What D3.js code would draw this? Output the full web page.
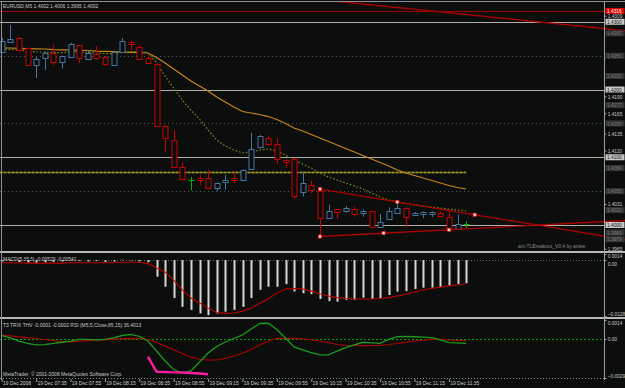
<!DOCTYPE html>
<html>
<head>
<meta charset="utf-8">
<script src="https://cdn.jsdelivr.net/npm/d3@7"></script>
<style>
body { margin: 0; background: #0c0e0e; }
svg { display: block; font-family: "Liberation Sans", Arial, sans-serif; }
</style>
</head>
<body>
<svg width="625" height="388"></svg>
<script>
var title = "EURUSD,M5  1.4002 1.4006 1.3995 1.4002";
var macdTitle = "MACD(5,35,5) -0.00529 -0.00541";
var trixTitle = "T3 TRIX THV -0.0001 -0.0002  RSI (M5,5,Close,85,15) 36.4013";
var copyright = "MetaTrader, \u00a9 2001-2008 MetaQuotes Software Corp.";
var tlName = "ant-TLBreakout_V0.4 by antee";

// M5 bars, 19 Dec 2008 07:15 .. 11:45
var opens = [1.4255,1.4270,1.4276,1.4261,1.4236,1.4246,1.4254,1.4241,1.4248,1.4265,1.4245,1.4252,1.4248,1.4236,1.4256,1.4270,1.4263,1.4247,1.4238,1.4146,1.4126,1.4086,1.4067,1.4070,1.4069,1.4055,1.4063,1.4069,1.4066,1.4082,1.4115,1.4129,1.4120,1.4096,1.4097,1.4049,1.4059,1.4050,1.4011,1.4023,1.4020,1.4023,1.4018,1.4020,1.3997,1.4009,1.4018,1.4025,1.4015,1.4016,1.4016,1.4017,1.4012,1.3994,1.4002];
var highs = [1.4276,1.4295,1.4277,1.4262,1.4248,1.4256,1.4266,1.4250,1.4269,1.4266,1.4258,1.4264,1.4249,1.4257,1.4276,1.4272,1.4265,1.4251,1.4239,1.4147,1.4140,1.4092,1.4071,1.4074,1.4081,1.4063,1.4074,1.4079,1.4082,1.4136,1.4133,1.4132,1.4128,1.4097,1.4098,1.4079,1.4066,1.4053,1.4030,1.4024,1.4028,1.4027,1.4023,1.4021,1.4016,1.4026,1.4034,1.4026,1.4019,1.4020,1.4020,1.4020,1.4023,1.4015,1.4006];
var lows = [1.4254,1.4269,1.4256,1.4235,1.4217,1.4229,1.4236,1.4231,1.4247,1.4239,1.4244,1.4244,1.4235,1.4235,1.4255,1.4258,1.4244,1.4238,1.4145,1.4107,1.4084,1.4066,1.4051,1.4059,1.4053,1.4050,1.4052,1.4062,1.4065,1.4081,1.4113,1.4117,1.4090,1.4085,1.4038,1.4042,1.4047,1.3983,1.4010,1.4009,1.4018,1.4012,1.4012,1.3996,1.3996,1.4008,1.4017,1.3997,1.4014,1.4010,1.4012,1.4013,1.3993,1.3993,1.3995];
var closes = [1.4271,1.4274,1.4259,1.4236,1.4245,1.4254,1.4240,1.4249,1.4267,1.4246,1.4254,1.4246,1.4237,1.4256,1.4272,1.4267,1.4245,1.4239,1.4146,1.4128,1.4085,1.4068,1.4067,1.4067,1.4054,1.4062,1.4066,1.4066,1.4081,1.4112,1.4131,1.4120,1.4097,1.4093,1.4043,1.4062,1.4051,1.4010,1.4021,1.4019,1.4025,1.4016,1.4021,1.3997,1.4005,1.4020,1.4025,1.4012,1.4018,1.4019,1.4019,1.4014,1.3994,1.4001,1.4002];

var maSlow = [1.42613,1.42613,1.42608,1.42605,1.42601,1.42598,1.42590,1.42586,1.42583,1.42579,1.42576,1.42568,1.42564,1.42558,1.42554,1.42549,1.42546,1.42539,1.42472,1.42391,1.42303,1.42214,1.42125,1.42052,1.41978,1.41889,1.41815,1.41742,1.41675,1.41653,1.41631,1.41601,1.41557,1.41498,1.41432,1.41387,1.41336,1.41284,1.41232,1.41181,1.41129,1.41077,1.41026,1.40974,1.40923,1.40871,1.40812,1.40768,1.40731,1.40694,1.40657,1.40620,1.40583,1.40554,1.40531];
var maFast = [1.42598,1.42590,1.42583,1.42568,1.42554,1.42554,1.42546,1.42546,1.42554,1.42554,1.42546,1.42539,1.42531,1.42531,1.42546,1.42561,1.42561,1.42546,1.42391,1.42199,1.42022,1.41845,1.41697,1.41565,1.41402,1.41255,1.41166,1.41107,1.41063,1.41077,1.41107,1.41122,1.41092,1.41033,1.40959,1.40900,1.40841,1.40768,1.40708,1.40664,1.40620,1.40576,1.40531,1.40472,1.40413,1.40369,1.40339,1.40317,1.40295,1.40280,1.40266,1.40251,1.40236,1.40221,1.40207];

var macdHist = [-0.0003,-0.0002,-0.0004,-0.0006,-0.0007,-0.0005,-0.0004,-0.0003,-0.0001,-0.0002,-0.0003,-0.0002,-0.0004,-0.0003,0.0001,-0.0001,-0.0003,-0.0005,-0.0038,-0.0061,-0.0087,-0.0107,-0.0114,-0.0122,-0.0126,-0.0122,-0.0118,-0.0114,-0.0107,-0.0087,-0.0068,-0.0061,-0.0061,-0.0055,-0.0072,-0.0076,-0.0078,-0.0089,-0.0094,-0.0095,-0.0091,-0.0091,-0.0086,-0.0089,-0.0087,-0.0080,-0.0072,-0.0071,-0.0066,-0.0063,-0.0063,-0.0061,-0.0059,-0.0055,-0.0053];
var macdSignal = [-0.0006,-0.0006,-0.0006,-0.0007,-0.0007,-0.0007,-0.0007,-0.0007,-0.0006,-0.0006,-0.0006,-0.0006,-0.0006,-0.0006,-0.0005,-0.0005,-0.0005,-0.0008,-0.0018,-0.0027,-0.0046,-0.0068,-0.0087,-0.0098,-0.0110,-0.0120,-0.0122,-0.0121,-0.0117,-0.0110,-0.0099,-0.0089,-0.0075,-0.0066,-0.0065,-0.0066,-0.0071,-0.0077,-0.0082,-0.0086,-0.0088,-0.0089,-0.0089,-0.0089,-0.0088,-0.0086,-0.0082,-0.0078,-0.0073,-0.0068,-0.0065,-0.0062,-0.0059,-0.0057,-0.0054];

var trixMain = [0.00025,0.00007,-0.00016,-0.00034,-0.00045,-0.00042,-0.00034,-0.00025,-0.00016,-0.00004,-0.00003,-0.00008,-0.00004,0.00007,0.00025,0.00034,0.00018,-0.00016,-0.0009,-0.00164,-0.00227,-0.00253,-0.00238,-0.00171,-0.00105,-0.00056,-0.00023,0.00003,0.00029,0.00073,0.00114,0.00116,0.0007,0.00007,-0.0006,-0.00082,-0.00101,-0.00119,-0.00119,-0.0009,-0.00065,-0.00045,-0.00025,-0.00029,-0.00033,-0.00004,0.00016,0.00018,0.00016,0.00013,0.00009,-0.00008,-0.00027,-0.0003,-0.00033];
var trixSignal = [0.00027,0.00022,0.00016,0.00009,0.00003,-0.00004,-0.00012,-0.00019,-0.00022,-0.00018,-0.00013,-0.0001,-0.00007,-0.00002,0.00002,0.00004,0.00002,-0.00004,-0.00027,-0.00053,-0.00082,-0.00108,-0.00134,-0.00153,-0.00156,-0.00156,-0.00145,-0.00127,-0.00107,-0.00079,-0.00045,-0.00017,0.00004,0.00005,0.00004,0.00001,-0.00007,-0.00016,-0.00029,-0.00042,-0.00047,-0.00049,-0.0005,-0.0005,-0.00047,-0.00042,-0.00034,-0.00024,-0.00016,-0.0001,-0.00004,-0.00004,-0.00008,-0.00012,-0.00013];
var rsiStart = 17;
var rsiLine = [-0.00132,-0.00243,-0.00245,-0.00248,-0.00249,-0.00253,-0.00257,-0.00262];

var labelBars = [0,4,8,12,16,20,24,28,32,36,40,44,48,52];
var timeLabels = ["19 Dec 2008","19 Dec 07:35","19 Dec 07:55","19 Dec 08:15","19 Dec 08:35","19 Dec 08:55","19 Dec 09:15","19 Dec 09:35","19 Dec 09:55","19 Dec 10:15","19 Dec 10:35","19 Dec 10:55","19 Dec 11:15","19 Dec 11:35"];

var solidLevels = [1.4300, 1.4200, 1.4100, 1.4000];
var dottedLevels = [1.4250, 1.4150, 1.4050];
var dimLevels = [1.4283, 1.4220, 1.4177, 1.4084, 1.4022, 1.3989, 1.3979];
var redLevel = 1.4316;
var yellowLevel = 1.4078;
var priceTicks = [1.4309, 1.4190, 1.4165, 1.4135, 1.4110, 1.4031, 1.3965];

var topTrend = [[39.1, 1.4330], [70.0, 1.4290]];
var upperTL = [[37, 1.4053], [55, 1.40152]];
var lowerTL = [[37, 1.3983], [52, 1.3993]];
var upperMarks = [37, 46, 55];
var lowerMarks = [37, 44.4, 52];

var macdTicks = [0.0014, 0, -0.0128];
var trixTicks = [0.0014, 0, -0.0029];

var svg = d3.select("svg");
var bg = "#0c0e0e", grey = "#b0b0a8", txt = "#c8c8c8";
var bars = d3.range(opens.length);

var x = d3.scaleLinear().domain([0, 54]).range([1.7, 466.1]);
var y = d3.scaleLinear().domain([1.4, 1.431]).range([225, 15]);
var yMacd = d3.scaleLinear().domain([-0.0128, 0.0014]).range([316, 254]);
var yTrix = d3.scaleLinear().domain([-0.0029, 0.0014]).range([378, 320]);

function px(v) { return Math.round(v) + 0.5; }
function sx(sel) { return sel.attr("transform", "scale(0.8,1)"); }
function label(t, lx, ly, col) {
    svg.append("text").attr("transform", "translate(" + lx + "," + ly + ") scale(0.8,1)")
        .attr("font-size", "6.2px").attr("fill", col || txt).text(t);
}
function extend(p, iEnd) {
    var k = (p[1][1] - p[0][1]) / (p[1][0] - p[0][0]);
    return [p[0], [iEnd, p[0][1] + k * (iEnd - p[0][0])]];
}
function ptOn(p, i) {
    var k = (p[1][1] - p[0][1]) / (p[1][0] - p[0][0]);
    return p[0][1] + k * (i - p[0][0]);
}

svg.append("rect").attr("width", 625).attr("height", 388).attr("fill", bg);
svg.append("defs").append("clipPath").attr("id", "mainClip")
    .append("rect").attr("x", 0).attr("y", 2).attr("width", 625).attr("height", 249);

// main panel levels
svg.selectAll(".dl").data(dottedLevels).enter().append("line")
    .attr("x1", 0).attr("x2", 604).attr("y1", function (d) { return px(y(d)); }).attr("y2", function (d) { return px(y(d)); })
    .attr("stroke", "#5a5a5a").attr("stroke-dasharray", "1,3");
svg.selectAll(".sl").data(solidLevels).enter().append("line")
    .attr("x1", 0).attr("x2", 604).attr("y1", function (d) { return px(y(d)); }).attr("y2", function (d) { return px(y(d)); })
    .attr("stroke", grey);
svg.append("line").attr("x1", 0).attr("x2", 604).attr("y1", px(y(redLevel))).attr("y2", px(y(redLevel)))
    .attr("stroke", "#a00000");
svg.append("line").attr("x1", 0).attr("x2", x(54)).attr("y1", px(y(yellowLevel))).attr("y2", px(y(yellowLevel)))
    .attr("stroke", "#5e7a16").attr("stroke-width", 1.5);
svg.append("line").attr("x1", 0).attr("x2", x(54)).attr("y1", px(y(yellowLevel))).attr("y2", px(y(yellowLevel)))
    .attr("stroke", "#b8881c").attr("stroke-width", 1.5).attr("stroke-dasharray", "2,2");

// moving averages
var maLine = d3.line().x(function (d, i) { return x(i); }).y(function (d) { return y(d); });
svg.append("path").attr("d", maLine(maSlow)).attr("fill", "none").attr("stroke", "#c8861a").attr("stroke-width", 1.2);
svg.append("path").attr("d", maLine(maFast)).attr("fill", "none").attr("stroke", "#7e9224")
    .attr("stroke-width", 1.2).attr("stroke-dasharray", "1.5,2");

// candles
function candleColor(i) {
    if (closes[i] > opens[i]) return "#4874a0";
    if (closes[i] < opens[i]) return "#c80000";
    return "#00b000";
}
var cg = svg.append("g");
bars.forEach(function (i) {
    var cx = px(x(i)), col = candleColor(i);
    cg.append("line").attr("x1", cx).attr("x2", cx).attr("y1", y(highs[i])).attr("y2", y(lows[i])).attr("stroke", col);
    if (opens[i] === closes[i]) {
        cg.append("line").attr("x1", cx - 3).attr("x2", cx + 3).attr("y1", px(y(opens[i]))).attr("y2", px(y(opens[i])))
            .attr("stroke", col);
    } else {
        var top = Math.round(y(Math.max(opens[i], closes[i]))) + 0.5;
        var bot = Math.round(y(Math.min(opens[i], closes[i]))) + 0.5;
        cg.append("rect").attr("x", cx - 2.5).attr("y", top).attr("width", 5).attr("height", Math.max(1, bot - top))
            .attr("fill", bg).attr("stroke", col);
    }
});

// trend lines
var tl = svg.append("g").attr("clip-path", "url(#mainClip)");
var tline = d3.line().x(function (d) { return x(d[0]); }).y(function (d) { return y(d[1]); });
tl.append("path").attr("d", tline(extend(topTrend, 73).map(function (d, k) { return k === 0 ? [36, ptOn(topTrend, 36)] : d; })))
    .attr("fill", "none").attr("stroke", "#a00000").attr("stroke-width", 1.5);
tl.append("path").attr("d", tline(extend(upperTL, 73))).attr("fill", "none").attr("stroke", "#b00000").attr("stroke-width", 1.3);
tl.append("path").attr("d", tline(extend(lowerTL, 73))).attr("fill", "none").attr("stroke", "#b00000").attr("stroke-width", 1.3);
upperMarks.forEach(function (i) {
    tl.append("rect").attr("x", x(i) - 1.5).attr("y", y(ptOn(upperTL, i)) - 1.5).attr("width", 3).attr("height", 3)
        .attr("fill", "#fff0f0").attr("stroke", "#ff2020").attr("stroke-width", 0.8);
});
lowerMarks.forEach(function (i) {
    tl.append("rect").attr("x", x(i) - 1.5).attr("y", y(ptOn(lowerTL, i)) - 1.5).attr("width", 3).attr("height", 3)
        .attr("fill", "#fff0f0").attr("stroke", "#ff2020").attr("stroke-width", 0.8);
});

// MACD panel
svg.append("line").attr("x1", 0).attr("x2", 604).attr("y1", px(yMacd(0))).attr("y2", px(yMacd(0)))
    .attr("stroke", "#6a6a6a").attr("stroke-dasharray", "1,2");
svg.selectAll(".hist").data(macdHist).enter().append("rect")
    .attr("x", function (d, i) { return Math.round(x(i)) - 0.5; })
    .attr("y", function (d) { return yMacd(Math.max(0, d)); })
    .attr("width", 2)
    .attr("height", function (d) { return Math.abs(yMacd(d) - yMacd(0)); })
    .attr("fill", "#d8d8d0");
var macdLine = d3.line().x(function (d, i) { return x(i); }).y(function (d) { return yMacd(d); });
svg.append("path").attr("d", macdLine(macdSignal)).attr("fill", "none").attr("stroke", "#c00000").attr("stroke-width", 1.1);

// TRIX / RSI panel
svg.append("line").attr("x1", 0).attr("x2", 604).attr("y1", px(yTrix(0))).attr("y2", px(yTrix(0)))
    .attr("stroke", "#00a000").attr("stroke-dasharray", "2,2");
svg.append("line").attr("x1", 0).attr("x2", 604).attr("y1", 378.5).attr("y2", 378.5)
    .attr("stroke", "#8a8a8a").attr("stroke-dasharray", "1,2");
var trixLine = d3.line().x(function (d, i) { return x(i); }).y(function (d) { return yTrix(d); });
svg.append("path").attr("d", trixLine(trixSignal)).attr("fill", "none").attr("stroke", "#b00000").attr("stroke-width", 1.1);
svg.append("path").attr("d", trixLine(trixMain)).attr("fill", "none").attr("stroke", "#1c9a1c").attr("stroke-width", 1.3);
var rsiPath = d3.line().x(function (d, i) { return x(i + rsiStart); }).y(function (d) { return yTrix(d); });
svg.append("path").attr("d", rsiPath(rsiLine)).attr("fill", "none").attr("stroke", "#ff1aa0").attr("stroke-width", 2.4);

// frame
svg.append("line").attr("x1", 0).attr("y1", 1.5).attr("x2", 625).attr("y2", 1.5).attr("stroke", "#909090");
svg.append("rect").attr("x", 0).attr("y", 251).attr("width", 625).attr("height", 2).attr("fill", "#b8b8b8");
svg.append("rect").attr("x", 0).attr("y", 317).attr("width", 625).attr("height", 2).attr("fill", "#b8b8b8");
svg.append("line").attr("x1", 1.5).attr("x2", 1.5).attr("y1", 1).attr("y2", 380).attr("stroke", "#909090");
svg.append("line").attr("x1", 604.5).attr("x2", 604.5).attr("y1", 1).attr("y2", 380).attr("stroke", "#a0a0a0");

// price axis
var pAxis = svg.append("g").attr("transform", "translate(604.5,0)")
    .call(d3.axisRight(y).tickValues(priceTicks).tickSize(2).tickPadding(2).tickFormat(d3.format(".4f")));
pAxis.select(".domain").remove();
pAxis.selectAll("line").attr("stroke", "#a0a0a0");
sx(pAxis.selectAll("text").attr("fill", txt).attr("font-size", "6px").attr("font-family", null));

function priceBox(v, fill, col) {
    var g = svg.append("g").attr("transform", "translate(605," + y(v) + ")");
    g.append("rect").attr("x", 0.5).attr("y", -3).attr("width", 19).attr("height", 6).attr("fill", fill);
    g.append("text").attr("transform", "translate(2,2.2) scale(0.8,1)").attr("font-size", "6px").attr("fill", col)
        .text(d3.format(".4f")(v));
}
dimLevels.concat(dottedLevels).forEach(function (v) { priceBox(v, "#333535", "#7a7a7a"); });
solidLevels.forEach(function (v) { priceBox(v, "#c8c8c4", "#101010"); });
priceBox(redLevel, "#e00000", "#ffffff");

// indicator axes
function indAxis(scale, ticks, dys) {
    var a = svg.append("g").attr("transform", "translate(604.5,0)")
        .call(d3.axisRight(scale).tickValues(ticks).tickSize(2).tickPadding(2)
            .tickFormat(function (d) { return d === 0 ? "0.00" : d3.format(".4f")(d); }));
    a.select(".domain").remove();
    a.selectAll("line").attr("stroke", "#a0a0a0");
    sx(a.selectAll("text").attr("fill", txt).attr("font-size", "6px").attr("font-family", null)
        .attr("dy", function (d, i) { return dys[i]; }));
}
indAxis(yMacd, macdTicks, ["0.65em", "0.95em", "-0.1em"]);
indAxis(yTrix, trixTicks, ["0.8em", "0.32em", "-0.1em"]);

// time axis
var tAxis = svg.append("g").attr("transform", "translate(0,379)")
    .call(d3.axisBottom(x).tickValues(labelBars).tickSize(3).tickFormat(function (d, i) { return timeLabels[i]; }));
tAxis.select(".domain").remove();
tAxis.selectAll("line").attr("stroke", "#a0a0a0");
sx(tAxis.selectAll("text").attr("fill", txt).attr("font-size", "6.2px").attr("font-family", null)
    .attr("text-anchor", "start").attr("x", 1).attr("y", 1.5).attr("dy", "0.71em"));

// captions
label(title, 3, 8);
label(macdTitle, 3, 261);
label(trixTitle, 3, 327);
label(copyright, 3, 375.5);
label(tlName, 518, 248, "#8a8a8a");
</script>
</body>
</html>
